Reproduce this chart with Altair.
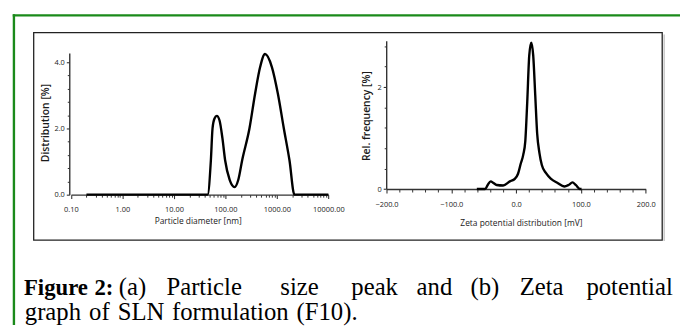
import altair as alt
import pandas as pd

W, H = 680, 319

# ---------------- data ----------------
# (a) particle size distribution
size_nm = [0.2, 45.1, 52.2, 56.2, 61.4, 68.0, 76.7, 87.6, 98.7, 121, 151, 178, 212,
           293, 377, 471, 588, 802, 1045, 1364, 1755, 2190, 10000]
size_pct = [0, 0, 1.04, 2.0, 2.3, 2.38, 2.25, 1.7, 1.04, 0.45, 0.23, 0.45, 1.05,
            2.0, 3.05, 3.85, 4.25, 3.85, 3.05, 2.0, 1.04, 0, 0]

# (b) zeta potential distribution
zeta_mv = [-60.6, -47.8, -43.8, -39.2, -35, -30, -20, -9.6, -2, 3, 7, 11, 14.2, 17.2,
           20.3, 23.4, 26.4, 29.5, 32.5, 36.1, 39.7, 46.2, 53.9, 64, 74.4, 81, 87, 92,
           98.8, 101]
zeta_pct = [0, 0, 0.08, 0.15, 0.12, 0.08, 0.07, 0.15, 0.2, 0.3, 0.49, 0.67, 0.94, 1.71,
            2.62, 2.87, 2.62, 1.85, 1.09, 0.7, 0.47, 0.31, 0.2, 0.12, 0.05, 0.08, 0.13, 0.08,
            0, 0]

# tick values
size_major = [0.1, 1, 10, 100, 1000, 10000]
size_minor_mult = [2, 3, 4, 5, 6, 7, 8, 9]
size_minor = [m * d for d in size_major[:-1] for m in size_minor_mult]
dist_major = [0, 2, 4]
dist_minor = [0.4, 0.8, 1.2, 1.6, 2.4, 2.8, 3.2, 3.6]
zeta_major = [-200, -100, 0, 100, 200]
zeta_minor = [-180, -160, -140, -120, -80, -60, -40, -20, 20, 40, 60, 80, 120, 140, 160, 180]
freq_major = [0, 2]
freq_minor = [0.4, 0.8, 1.2, 1.6, 2.4, 2.8]

# caption text
cap1_bold_words = ["Figure", "2:"]
cap1_words = ["(a)", "Particle", "size", "peak", "and", "(b)", "Zeta", "potential"]
cap2_words = ["graph", "of", "SLN", "formulation", "(F10)."]

# ---------------- layout (pixels, word centres / starts) ----------------
cap1_bold_x = [48.5, 97]
cap1_x = [126, 198.5, 295, 371, 431.5, 482.5, 540, 629]
cap2_x = [17, 82, 111, 166, 292]
cap1_y, cap2_y = 288.5, 313.5

GREEN = "#1a8a1a"
AX = "#333333"

df_a = pd.DataFrame({"nm": size_nm, "pct": size_pct})
df_b = pd.DataFrame({"mv": zeta_mv, "pct": zeta_pct})
bold_df = pd.DataFrame({"w": cap1_bold_words, "px": cap1_bold_x, "py": cap1_y})
line1_df = pd.DataFrame({"w": cap1_words, "px": cap1_x, "py": cap1_y})
line2_df = pd.DataFrame({"w": cap2_words, "px": cap2_x, "py": cap2_y})

sx_a = alt.Scale(type="log", domain=[0.1, 10000], range=[63.7, 324.2], nice=False)
sy_a = alt.Scale(domain=[0, 4.28], range=[187, 43.7], nice=False, zero=False)
sx_b = alt.Scale(domain=[-200, 200], range=[383, 645.3], nice=False, zero=False)
sy_b = alt.Scale(domain=[0, 2.907], range=[181.3, 31.3], nice=False, zero=False)

ax = dict(domainColor=AX, domainWidth=1.4, tickColor=AX, tickWidth=1.1,
          labelColor="#222", labelFont="Open Sans", labelFontSize=7.5,
          titleFont="Open Sans", titleColor="#1a1a1a", grid=False,
          labelFlush=False, labelOverlap=False)
xt = dict(titleFontSize=8.5, titleFontWeight="normal", titleBaseline="middle", titleAlign="center")
yt = dict(titleFontSize=10.5, titleFontWeight=600, titleBaseline="middle", titleAlign="center",
          titleAngle=270)
mx = dict(labels=False, domain=False, grid=False, title="", tickColor=AX, tickWidth=1.0)

one = alt.Data(values=[{}])

green_left = alt.Chart(one).mark_rule(color=GREEN, strokeWidth=2.4).encode(
    x=alt.value(6), y=alt.value(4.5), y2=alt.value(H))
green_top = alt.Chart(one).mark_rule(color=GREEN, strokeWidth=2.4).encode(
    y=alt.value(5.5), x=alt.value(4.8), x2=alt.value(W))
box = alt.Chart(one).mark_rect(filled=False, stroke="#222", strokeWidth=1.3).encode(
    x=alt.value(26), x2=alt.value(662), y=alt.value(23), y2=alt.value(233))
shadow = alt.Chart(one).mark_rule(color="#c8c8c8", strokeWidth=1.5).encode(
    x=alt.value(664), y=alt.value(25), y2=alt.value(234))

line_a = alt.Chart(df_a).mark_line(color="black", strokeWidth=2.4, interpolate="monotone").encode(
    x=alt.X("nm:Q", scale=sx_a, axis=alt.Axis(
        orient="bottom", offset=187 - H, values=size_major, format=".2f", tickSize=4,
        labelPadding=7, title="Particle diameter [nm]", titleX=192, titleY=26, **xt, **ax)),
    y=alt.Y("pct:Q", scale=sy_a, axis=alt.Axis(
        orient="left", offset=-62, values=dist_major, format=".1f", tickSize=3,
        labelPadding=2, title="Distribution [%]", titleX=-24, titleY=114, **yt, **ax)),
)
minor_a = alt.Chart(df_a).mark_point(opacity=0).encode(
    x=alt.X("nm:Q", scale=sx_a, axis=alt.Axis(orient="bottom", offset=187 - H,
                                              values=size_minor, tickSize=2.5, **mx)),
    y=alt.Y("pct:Q", scale=sy_a, axis=alt.Axis(orient="left", offset=-62,
                                               values=dist_minor, tickSize=2, **mx)),
)

line_b = alt.Chart(df_b).mark_line(color="black", strokeWidth=2.4, interpolate="monotone").encode(
    x=alt.X("mv:Q", scale=sx_b, axis=alt.Axis(
        orient="bottom", offset=181.3 - H, values=zeta_major, format=".1f", tickSize=4,
        labelPadding=8, title="Zeta potential distribution [mV]", titleX=519, titleY=33.5,
        **xt, **ax)),
    y=alt.Y("pct:Q", scale=sy_b, axis=alt.Axis(
        orient="left", offset=-382.7, values=freq_major, format="d", tickSize=3,
        labelPadding=2, title="Rel. frequency [%]", titleX=-19.5, titleY=107, **yt, **ax)),
)
minor_b = alt.Chart(df_b).mark_point(opacity=0).encode(
    x=alt.X("mv:Q", scale=sx_b, axis=alt.Axis(orient="bottom", offset=181.3 - H,
                                              values=zeta_minor, tickSize=3, **mx)),
    y=alt.Y("pct:Q", scale=sy_b, axis=alt.Axis(orient="left", offset=-382.7,
                                               values=freq_minor, tickSize=2, **mx)),
)

cap_bold = alt.Chart(bold_df).mark_text(
    font="Liberation Serif", fontSize=23, fontWeight="bold", align="center",
    baseline="alphabetic", color="black").encode(
    x=alt.X("px:Q", scale=None), y=alt.Y("py:Q", scale=None), text="w:N")
cap_line1 = alt.Chart(line1_df).mark_text(
    font="Liberation Serif", fontSize=25, align="center",
    baseline="alphabetic", color="black").encode(
    x=alt.X("px:Q", scale=None), y=alt.Y("py:Q", scale=None), text="w:N")
cap_line2 = alt.Chart(line2_df).mark_text(
    font="Liberation Serif", fontSize=25, align="left",
    baseline="alphabetic", color="black").encode(
    x=alt.X("px:Q", scale=None), y=alt.Y("py:Q", scale=None), text="w:N")

chart = alt.layer(
    green_left, green_top, box, shadow, line_a, minor_a, line_b, minor_b,
    cap_bold, cap_line1, cap_line2
).resolve_scale(x="independent", y="independent").resolve_axis(
    x="independent", y="independent"
).properties(
    width=W, height=H, autosize=alt.AutoSizeParams(type="none"), padding=0,
    background="white"
).configure_view(strokeWidth=0)

chart.save("out.html", embed_options={"renderer": "svg", "actions": False})
